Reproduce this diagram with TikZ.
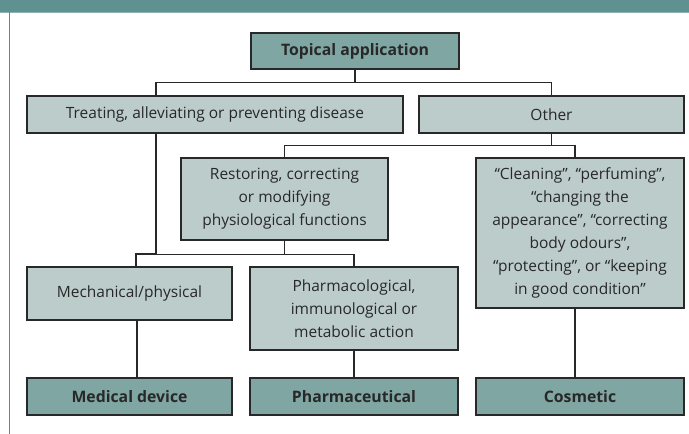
\documentclass[tikz,border=0pt]{standalone}
\usepackage{fontspec}
\setmainfont{Open Sans}
\usepackage{tikz}

\definecolor{band}{RGB}{94,145,143}
\definecolor{rule}{RGB}{70,150,145}
\definecolor{darkbox}{RGB}{127,166,163}
\definecolor{lightbox}{RGB}{188,204,203}
\definecolor{ink}{RGB}{40,40,40}

\begin{document}
\begin{tikzpicture}[x=1pt,y=-1pt,
	box/.style={draw=ink, line width=1.4pt, inner sep=0pt, align=center, text=ink,
		font=\fontsize{15.5}{23}\selectfont},
	lightbox/.style={box, fill=lightbox},
	endbox/.style={box, fill=darkbox, font=\fontsize{15.8}{23}\selectfont\bfseries},
	link/.style={draw=ink, line width=1.1pt}]
	\useasboundingbox (0,0) rectangle (689,434);
	% frame
	\fill[band] (0,0) rectangle (689,12);
	\draw[band!70!white, line width=0.8pt] (0,12.5) -- (689,12.5);
	\draw[rule, line width=1.8pt] (9.5,12) -- (9.5,434);
	% boxes
	\node[endbox, minimum width=208, minimum height=36] (top) at (355,51) {Topical application};
	\node[lightbox, minimum width=376, minimum height=37] (treat) at (215,114.5) {Treating, alleviating or preventing disease};
	\node[lightbox, minimum width=265, minimum height=37] (other) at (551.5,114.5) {Other};
	\node[lightbox, minimum width=207, minimum height=82] (restore) at (284.5,199) {Restoring, correcting\\or modifying\\physiological functions};
	\node[lightbox, minimum width=208, minimum height=150] (clean) at (580,233) {“Cleaning”, “perfuming”,\\“changing the\\appearance”, “correcting\\body odours”,\\“protecting”, or “keeping\\in good condition”};
	\node[lightbox, minimum width=205, minimum height=53] (mech) at (129.5,293.5) {Mechanical/physical};
	\node[lightbox, minimum width=208, minimum height=83] (pharm) at (354,308.5) {Pharmacological,\\immunological or\\metabolic action};
	\node[endbox, minimum width=205, minimum height=37] (device) at (129.5,396.5) {Medical device};
	\node[endbox, minimum width=208, minimum height=37] (drug) at (354,396.5) {Pharmaceutical};
	\node[endbox, minimum width=208, minimum height=37] (cosm) at (580,396.5) {Cosmetic};
	% connectors
	\draw[link] (top.south) -- ++(0,13) -| (treat.north -| 156,0);
	\draw[link] (top.south) -- ++(0,13) -| (other.north);
	\draw[link] (other.south) -- ++(0,12) -| (restore.north);
	\draw[link] (other.south) -- ++(0,12) -| (clean.north -| 575,0);
	\draw[link] (treat.south -| 156,0) -- (156,254) -| (mech.north -| 136,0);
	\draw[link] (restore.south) -- ++(0,14) -| (mech.north -| 136,0);
	\draw[link] (restore.south) -- ++(0,14) -| (pharm.north);
	\draw[link] (mech.south -| 137,0) -- (device.north -| 137,0);
	\draw[link] (pharm.south) -- (drug.north);
	\draw[link] (clean.south -| 575,0) -- (cosm.north -| 575,0);
\end{tikzpicture}
\end{document}
